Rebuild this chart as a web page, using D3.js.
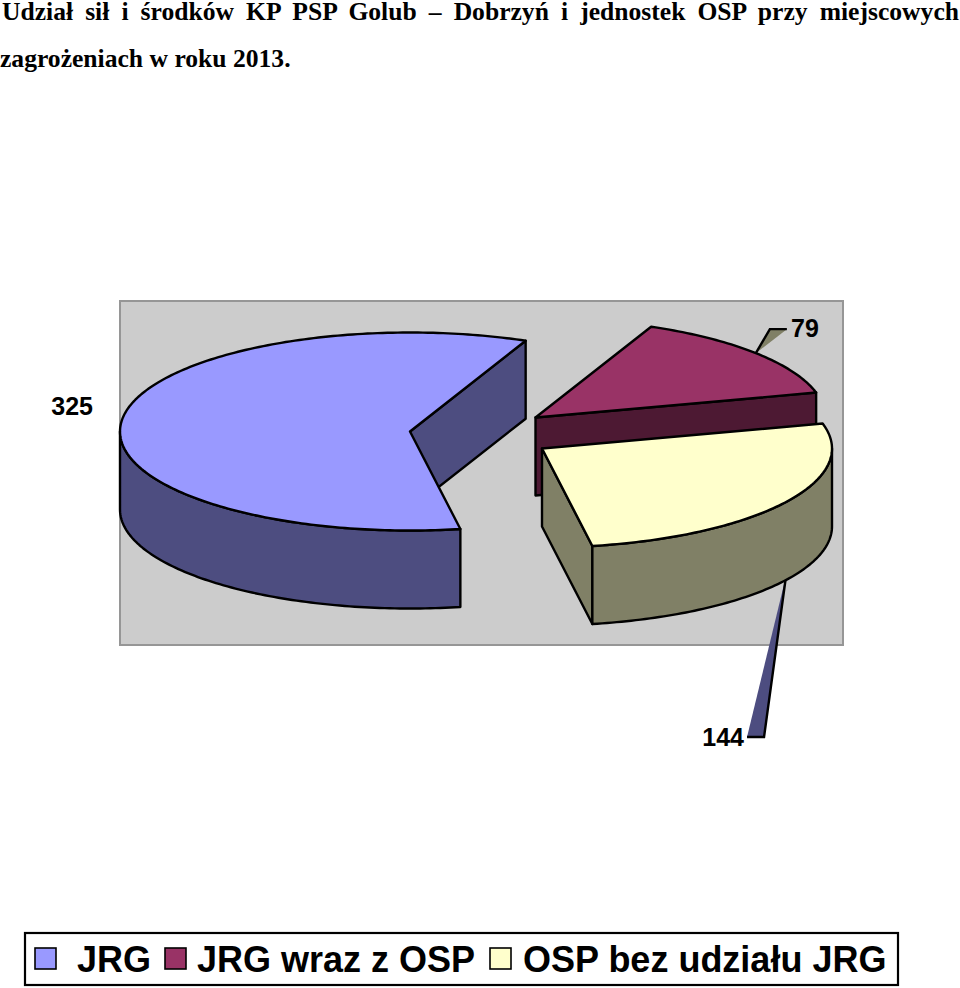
<!DOCTYPE html>
<html>
<head>
<meta charset="utf-8">
<script src="https://cdn.jsdelivr.net/npm/d3@7"></script>
<style>
    html, body { margin: 0; padding: 0; background: #fff; }
    #wrapper { position: relative; width: 960px; height: 988px; overflow: hidden; }
    #title {
        position: absolute; left: 2px; top: 0; width: 957px;
        font: bold 25.6px/24px "Liberation Serif", serif; color: #000;
    }
    #title div { white-space: nowrap; }
    #title .just { white-space: normal; text-align: justify; text-align-last: justify; margin-bottom: 23px; }
    #title .second { margin-left: -2px; }
    svg { position: absolute; left: 0; top: 0; }
</style>
</head>
<body>
<div id="wrapper">
    <div id="title">
        <div class="just">Udział sił i środków KP PSP Golub – Dobrzyń i jednostek OSP przy miejscowych</div>
        <div class="second">zagrożeniach w roku 2013.</div>
    </div>
</div>
<script>
const categories = ["JRG", "JRG wraz z OSP", "OSP bez udziału JRG"];
const values = [325, 79, 144];
const topColors = ["#9999ff", "#993366", "#ffffcc"];
const wallColors = ["#4d4d80", "#4d1933", "#808066"];
const leaderColors = ["none", "#808066", "#4d4d80"];

function deg(a) { return a * Math.PI / 180; }

const dimensions = { width: 960, height: 988 };
const plot = { x: 120, y: 301, width: 723, height: 344 };
const pieBox = { cx: 410, cy: 431.5, rx: 290, ry: 99, depth: 78 };
const firstAngle = 170;
// how far each slice is pulled out of the pie
const explode = [[0, 0], [125.5, -14], [132, 17]];
// leader bend and end, relative to where it leaves the slice
const elbow = [null, [14, -24], [-22, 161]];
const elbowEnd = [null, [31, -24], [-39, 161]];

const svg = d3.select("#wrapper").append("svg")
    .attr("width", dimensions.width)
    .attr("height", dimensions.height);

svg.append("rect")
    .attr("x", plot.x).attr("y", plot.y)
    .attr("width", plot.width).attr("height", plot.height)
    .attr("fill", "#cccccc")
    .attr("stroke", "#969696")
    .attr("stroke-width", 2);

const xScale = d3.scaleLinear().domain([-1, 1]).range([-pieBox.rx, pieBox.rx]);
const yScale = d3.scaleLinear().domain([-1, 1]).range([pieBox.ry, -pieBox.ry]);

const slices = d3.pie().sort(null)
    .startAngle(deg(firstAngle))
    .endAngle(deg(firstAngle + 360))(values);

function rimPoint(i, a, down) {
    return [
        pieBox.cx + explode[i][0] + xScale(Math.sin(a)),
        pieBox.cy + explode[i][1] + yScale(Math.cos(a)) + (down || 0)
    ];
}
function apex(i, down) {
    return [pieBox.cx + explode[i][0], pieBox.cy + explode[i][1] + (down || 0)];
}
function rim(i, a0, a1, down) {
    const n = Math.max(2, Math.ceil((a1 - a0) / deg(1)));
    return d3.range(n + 1).map(k => rimPoint(i, a0 + (a1 - a0) * k / n, down));
}
const closedLine = pts => d3.line()(pts) + "Z";

const lineWidth = 2.4;

// leader lines sit behind the pie
slices.forEach((s, i) => {
    if (!elbow[i]) return;
    const mid = (s.startAngle + s.endAngle) / 2;
    const start = rimPoint(i, mid, i === 2 ? pieBox.depth - 4 : 0);
    const pts = [start, [start[0] + elbow[i][0], start[1] + elbow[i][1]], [start[0] + elbowEnd[i][0], start[1] + elbowEnd[i][1]]];
    svg.append("path")
        .attr("d", d3.line()(pts))
        .attr("fill", leaderColors[i])
        .attr("stroke", "#000")
        .attr("stroke-width", lineWidth);
});

const faceStyle = sel => sel
    .attr("stroke", "#000")
    .attr("stroke-width", lineWidth)
    .attr("stroke-linejoin", "round");

// back to front: JRG, then JRG wraz z OSP, then OSP bez udziału JRG
slices.forEach((s, i) => {
    const turn = s.startAngle >= 2 * Math.PI ? 2 * Math.PI : 0;
    const a0 = s.startAngle - turn, a1 = s.endAngle - turn;

    // cut wall at the end of the slice
    const wall = [apex(i), rimPoint(i, a1), rimPoint(i, a1, pieBox.depth), apex(i, pieBox.depth)];
    svg.append("path").attr("d", closedLine(wall)).attr("fill", wallColors[i]).call(faceStyle);

    // outer wall, front half of the ellipse only
    const w0 = Math.max(a0, deg(90)), w1 = Math.min(a1, deg(270));
    if (w1 > w0) {
        const outer = rim(i, w0, w1, 0).concat(rim(i, w0, w1, pieBox.depth).reverse());
        svg.append("path").attr("d", closedLine(outer)).attr("fill", wallColors[i]).call(faceStyle);
    }

    // top face
    const top = [apex(i)].concat(rim(i, a0, a1, 0));
    svg.append("path").attr("d", closedLine(top)).attr("fill", topColors[i]).call(faceStyle);
});

// value labels
const labelPos = [[93, 415], [791, 337], [744, 746]];
const labelAnchor = ["end", "start", "end"];
svg.selectAll(".value").data(values).enter().append("text")
    .attr("class", "value")
    .attr("x", (d, i) => labelPos[i][0])
    .attr("y", (d, i) => labelPos[i][1])
    .attr("text-anchor", (d, i) => labelAnchor[i])
    .style("font", 'bold 25px "Liberation Sans", sans-serif')
    .text(d => d);

// legend
const legendBox = { x: 25, y: 933, width: 873, height: 52 };
const swatchX = [35, 165, 490];
const legendTextX = [77, 197, 523];
svg.append("rect")
    .attr("x", legendBox.x).attr("y", legendBox.y)
    .attr("width", legendBox.width).attr("height", legendBox.height)
    .attr("fill", "#fff").attr("stroke", "#000").attr("stroke-width", 2.2);
categories.forEach((c, i) => {
    svg.append("rect")
        .attr("x", swatchX[i]).attr("y", 948)
        .attr("width", 21).attr("height", 21)
        .attr("fill", topColors[i]).attr("stroke", "#000").attr("stroke-width", 1.6);
    svg.append("text")
        .attr("x", legendTextX[i]).attr("y", 972)
        .style("font", 'bold 36px "Liberation Sans", sans-serif')
        .text(c);
});
</script>
</body>
</html>
